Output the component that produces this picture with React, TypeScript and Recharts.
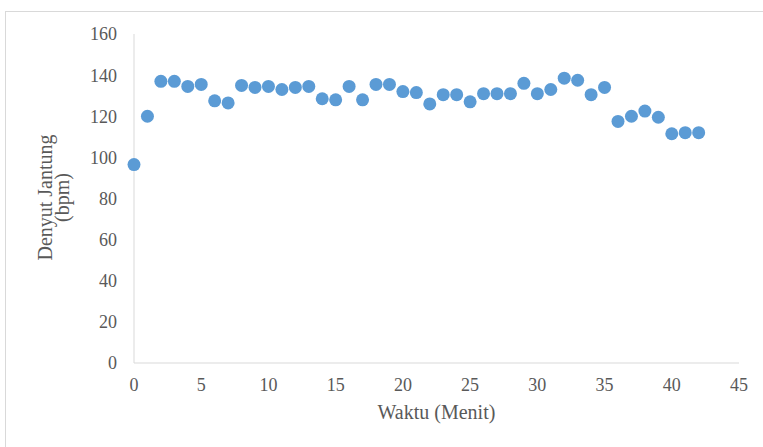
import React from 'react';
import { ScatterChart, Scatter, XAxis, YAxis, Label } from 'recharts';

// minute index and measured heart rate (bpm)
const minutes = [
  0, 1, 2, 3, 4, 5, 6, 7, 8, 9, 10, 11, 12, 13, 14, 15, 16, 17, 18, 19, 20, 21,
  22, 23, 24, 25, 26, 27, 28, 29, 30, 31, 32, 33, 34, 35, 36, 37, 38, 39, 40, 41, 42,
];
const heartRate = [
  96.5, 120, 137, 137, 134.5, 135.5, 127.5, 126.5, 135, 134, 134.5, 133, 134, 134.5,
  128.5, 128, 134.5, 128, 135.5, 135.5, 132, 131.5, 126, 130.5, 130.5, 127, 131, 131,
  131, 136, 131, 133, 138.5, 137.5, 130.5, 134, 117.5, 120, 122.5, 119.5, 111.5, 112, 112,
];
const xTicks = [0, 5, 10, 15, 20, 25, 30, 35, 40, 45];
const yTicks = [0, 20, 40, 60, 80, 100, 120, 140, 160];

const data = minutes.map((m, i) => ({ x: m, y: heartRate[i] }));

const FONT = '"Liberation Serif", "Times New Roman", serif';
const TEXT = '#595959';
const AXIS = '#d9d9d9';
const DOT = '#5B9BD5';

// two-line rotated title to the left of the value axis
const YTitle = ({ viewBox }: any) => {
  const cx = viewBox.x + 38;
  const cy = viewBox.y + viewBox.height / 2 - 1;
  return (
    <text
      transform={`rotate(-90, ${cx}, ${cy})`}
      x={cx}
      y={cy}
      textAnchor="middle"
      fill={TEXT}
      fontFamily={FONT}
      fontSize={20}
    >
      <tspan x={cx} dy="0">Denyut Jantung</tspan>
      <tspan x={cx} dy="17">(bpm)</tspan>
    </text>
  );
};

const XTitle = ({ viewBox }: any) => {
  const cx = viewBox.x + viewBox.width / 2;
  const cy = viewBox.y + 56;
  return (
    <text x={cx} y={cy} textAnchor="middle" fill={TEXT} fontFamily={FONT} fontSize={20}>
      Waktu (Menit)
    </text>
  );
};

export default function App() {
  return (
    <div style={{ position: 'absolute', left: 0, top: 0, width: 763, height: 447, background: '#fff' }}>
      <div
        style={{
          position: 'absolute',
          left: 5,
          top: 11,
          width: 758,
          height: 436,
          borderTop: `1px solid ${AXIS}`,
          borderLeft: `1px solid ${AXIS}`,
        }}
      />
      <ScatterChart
        width={763}
        height={447}
        margin={{ top: 34, right: 24, bottom: 24, left: 14 }}
        style={{ position: 'absolute', left: 0, top: 0 }}
      >
        <XAxis
          type="number"
          dataKey="x"
          domain={[0, 45]}
          ticks={xTicks}
          height={60}
          stroke={AXIS}
          tickLine={false}
          tickSize={6}
          tickMargin={9}
          tick={{ fill: TEXT, fontFamily: FONT, fontSize: 18 }}
        >
          <Label content={<XTitle />} />
        </XAxis>
        <YAxis
          type="number"
          dataKey="y"
          domain={[0, 160]}
          ticks={yTicks}
          width={120}
          stroke={AXIS}
          tickLine={false}
          tickSize={6}
          tickMargin={11}
          tick={{ fill: TEXT, fontFamily: FONT, fontSize: 18 }}
        >
          <Label content={<YTitle />} />
        </YAxis>
        <Scatter
          data={data}
          fill={DOT}
          isAnimationActive={false}
          shape={(p: any) => <circle cx={p.cx} cy={p.cy} r={6.5} fill={DOT} />}
        />
      </ScatterChart>
    </div>
  );
}
